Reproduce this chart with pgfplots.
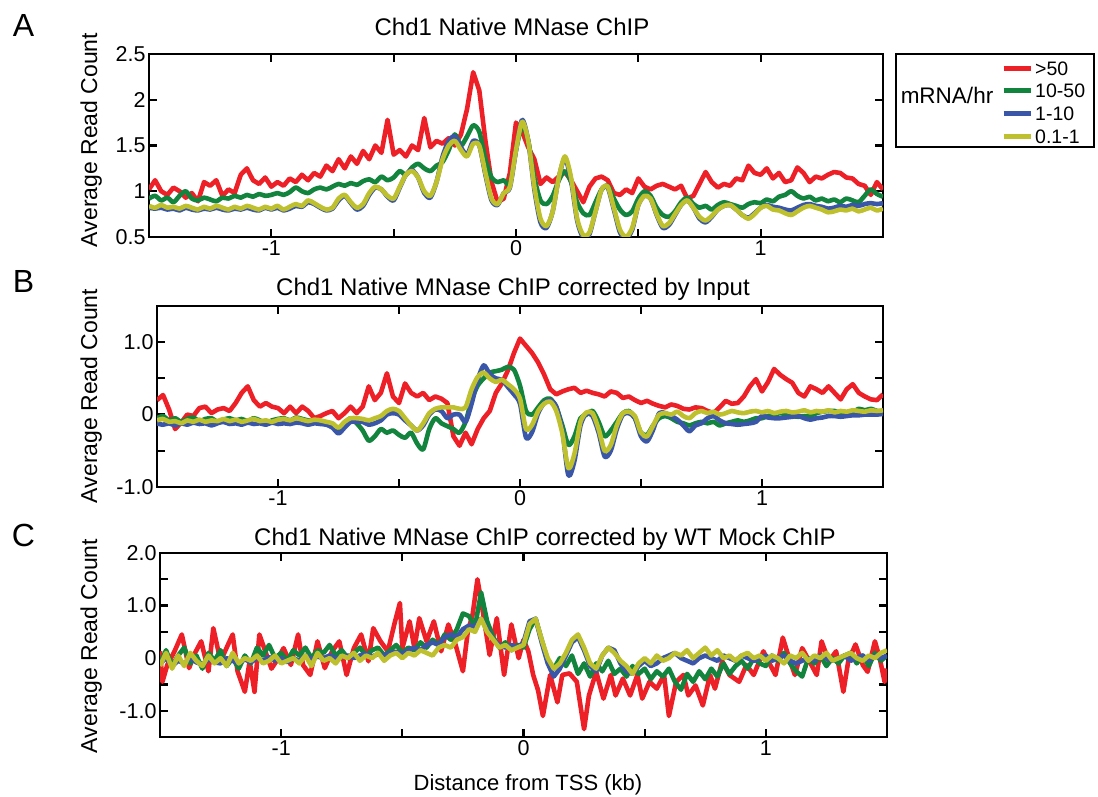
\documentclass[border=0pt]{standalone}
\usepackage{fontspec}
\setmainfont{Liberation Sans}
\usepackage{pgfplots}
\pgfplotsset{compat=1.18}
\usepackage{pgfplotstable}

\definecolor{cRed}{RGB}{236,32,38}
\definecolor{cGreen}{RGB}{18,132,62}
\definecolor{cBlue}{RGB}{58,86,168}
\definecolor{cYel}{RGB}{190,192,46}

% Panel A: native MNase ChIP (x in kb; r,g,b,y = >50, 10-50, 1-10, 0.1-1 mRNA/hr)
\pgfplotstableread{
x r g b y
-1.500 1.02 0.92 0.82 0.84
-1.475 1.12 0.95 0.81 0.82
-1.450 1.00 0.90 0.82 0.85
-1.425 0.96 0.93 0.80 0.82
-1.400 1.04 0.88 0.81 0.83
-1.375 1.00 0.95 0.79 0.81
-1.350 0.93 1.00 0.82 0.84
-1.325 0.98 0.92 0.80 0.82
-1.300 0.89 0.90 0.79 0.80
-1.275 1.10 0.93 0.81 0.83
-1.250 1.06 0.91 0.80 0.81
-1.225 1.12 0.89 0.82 0.84
-1.200 0.95 0.93 0.80 0.82
-1.175 1.02 0.92 0.79 0.80
-1.150 0.98 0.95 0.81 0.83
-1.125 1.18 0.93 0.80 0.81
-1.100 1.25 0.96 0.82 0.84
-1.075 1.12 0.94 0.80 0.82
-1.050 1.08 0.97 0.79 0.80
-1.025 1.15 0.95 0.82 0.83
-1.000 1.05 0.96 0.80 0.81
-0.975 1.10 0.98 0.82 0.84
-0.950 1.06 0.96 0.79 0.80
-0.925 1.14 0.99 0.81 0.83
-0.900 1.10 1.04 0.84 0.86
-0.875 1.18 1.00 0.83 0.84
-0.850 1.12 0.98 0.88 0.90
-0.825 1.20 1.02 0.86 0.87
-0.800 1.16 1.04 0.82 0.83
-0.775 1.28 1.02 0.79 0.80
-0.750 1.22 1.05 0.81 0.82
-0.725 1.35 1.08 0.90 0.92
-0.700 1.25 1.06 0.95 0.96
-0.675 1.38 1.09 0.87 0.88
-0.650 1.30 1.07 0.80 0.82
-0.625 1.44 1.11 0.84 0.86
-0.600 1.35 1.13 0.96 0.98
-0.575 1.50 1.10 1.04 1.05
-0.550 1.42 1.16 1.02 1.02
-0.525 1.78 1.12 0.94 0.95
-0.500 1.40 1.15 0.90 0.92
-0.475 1.45 1.22 1.04 1.05
-0.450 1.38 1.18 1.18 1.18
-0.425 1.50 1.26 1.23 1.22
-0.400 1.45 1.30 1.15 1.15
-0.375 1.80 1.25 0.98 1.00
-0.350 1.48 1.22 0.93 0.95
-0.325 1.55 1.28 1.10 1.10
-0.300 1.52 1.32 1.38 1.35
-0.275 1.58 1.45 1.55 1.50
-0.250 1.50 1.62 1.60 1.55
-0.225 1.62 1.50 1.48 1.45
-0.200 1.90 1.60 1.40 1.38
-0.175 2.30 1.72 1.55 1.52
-0.150 2.10 1.65 1.50 1.50
-0.125 1.55 1.35 1.18 1.20
-0.100 1.10 1.15 0.90 0.92
-0.075 0.88 1.10 0.85 0.86
-0.050 0.92 1.12 0.98 0.98
-0.025 1.20 1.08 1.04 1.05
0.000 1.75 1.45 1.45 1.45
0.025 1.65 1.72 1.78 1.76
0.050 1.48 1.55 1.55 1.55
0.075 1.35 1.15 1.02 1.05
0.100 1.08 0.90 0.66 0.70
0.125 1.15 0.86 0.60 0.62
0.150 1.10 0.95 0.78 0.78
0.175 1.16 1.12 1.15 1.15
0.200 1.21 1.22 1.36 1.38
0.225 1.12 1.10 1.12 1.15
0.250 1.00 0.88 0.68 0.70
0.275 0.88 0.76 0.49 0.52
0.300 1.05 0.74 0.53 0.55
0.325 1.14 0.88 0.78 0.78
0.350 1.16 1.02 1.02 1.02
0.375 1.12 1.06 1.04 1.05
0.400 0.98 0.92 0.80 0.82
0.425 0.96 0.80 0.55 0.58
0.450 1.02 0.74 0.48 0.50
0.475 0.98 0.78 0.58 0.60
0.500 1.14 0.92 0.85 0.85
0.525 1.05 1.00 0.95 0.95
0.550 1.02 0.95 0.92 0.92
0.575 1.06 0.82 0.74 0.75
0.600 1.08 0.74 0.60 0.62
0.625 1.05 0.72 0.63 0.65
0.650 1.02 0.78 0.74 0.75
0.675 1.06 0.88 0.85 0.85
0.700 0.92 0.93 0.90 0.90
0.725 0.95 0.86 0.82 0.82
0.750 1.08 0.82 0.70 0.72
0.775 1.21 0.84 0.66 0.68
0.800 1.10 0.80 0.72 0.73
0.825 1.04 0.85 0.80 0.80
0.850 1.08 0.88 0.84 0.84
0.875 1.06 0.86 0.85 0.85
0.900 1.14 0.84 0.80 0.80
0.925 1.12 0.82 0.74 0.74
0.950 1.28 0.86 0.71 0.70
0.975 1.20 0.88 0.76 0.75
1.000 1.18 0.87 0.82 0.82
1.025 1.25 0.91 0.85 0.84
1.050 1.14 0.89 0.83 0.80
1.075 1.20 0.94 0.82 0.79
1.100 1.10 0.96 0.80 0.76
1.125 1.12 1.00 0.79 0.74
1.150 1.26 0.95 0.82 0.78
1.175 1.20 0.92 0.85 0.82
1.200 1.10 0.94 0.86 0.84
1.225 1.16 0.90 0.84 0.82
1.250 1.14 0.92 0.83 0.80
1.275 1.18 0.89 0.81 0.77
1.300 1.21 0.91 0.82 0.78
1.325 1.20 0.88 0.84 0.80
1.350 1.15 0.92 0.83 0.79
1.375 1.14 0.90 0.85 0.81
1.400 1.08 0.88 0.84 0.78
1.425 1.06 0.95 0.86 0.80
1.450 0.96 1.02 0.87 0.82
1.475 1.10 0.97 0.86 0.79
1.500 1.02 0.94 0.87 0.81
}\nativeA

% Panel B: corrected by input
\pgfplotstableread{
x r g b y
-1.500 0.20 -0.05 -0.12 -0.08
-1.475 0.27 -0.02 -0.14 -0.06
-1.450 0.07 -0.08 -0.12 -0.10
-1.425 -0.20 -0.05 -0.15 -0.09
-1.400 -0.11 -0.10 -0.12 -0.12
-1.375 0.00 -0.06 -0.14 -0.08
-1.350 -0.02 -0.04 -0.11 -0.10
-1.325 0.09 -0.09 -0.13 -0.07
-1.300 0.11 -0.06 -0.12 -0.10
-1.275 0.02 -0.05 -0.15 -0.08
-1.250 0.07 -0.10 -0.12 -0.09
-1.225 0.09 -0.07 -0.10 -0.06
-1.200 0.05 -0.05 -0.13 -0.09
-1.175 0.16 -0.08 -0.12 -0.07
-1.150 0.30 -0.06 -0.14 -0.10
-1.125 0.39 -0.09 -0.11 -0.08
-1.100 0.20 -0.05 -0.13 -0.06
-1.075 0.11 -0.08 -0.12 -0.09
-1.050 0.16 -0.12 -0.14 -0.08
-1.025 0.11 -0.08 -0.11 -0.10
-1.000 0.09 -0.06 -0.13 -0.07
-0.975 0.02 -0.05 -0.12 -0.06
-0.950 0.11 -0.08 -0.13 -0.08
-0.925 0.02 -0.04 -0.11 -0.05
-0.900 0.11 -0.06 -0.12 -0.07
-0.875 0.05 -0.08 -0.14 -0.09
-0.850 -0.05 -0.08 -0.12 -0.07
-0.825 -0.02 -0.10 -0.13 -0.08
-0.800 0.02 -0.12 -0.14 -0.10
-0.775 0.05 -0.15 -0.18 -0.12
-0.750 -0.05 -0.20 -0.26 -0.18
-0.725 0.02 -0.12 -0.18 -0.10
-0.700 0.11 -0.05 -0.10 -0.05
-0.675 0.02 -0.12 -0.10 -0.05
-0.650 0.11 -0.22 -0.10 -0.06
-0.625 0.39 -0.36 -0.14 -0.08
-0.600 0.20 -0.30 -0.12 -0.05
-0.575 0.30 -0.20 -0.08 -0.02
-0.550 0.57 -0.25 0.00 0.05
-0.525 0.25 -0.22 0.02 0.08
-0.500 0.16 -0.28 0.00 0.05
-0.475 0.43 -0.32 -0.08 -0.05
-0.450 0.30 -0.25 -0.15 -0.15
-0.425 0.25 -0.40 -0.22 -0.22
-0.400 0.30 -0.48 -0.15 -0.12
-0.375 0.20 -0.20 0.00 0.02
-0.350 0.25 -0.05 0.07 0.08
-0.325 0.22 -0.12 0.05 0.10
-0.300 0.16 -0.16 -0.05 0.10
-0.275 -0.30 -0.20 0.00 0.10
-0.250 -0.43 -0.25 0.00 0.08
-0.225 -0.25 -0.10 -0.10 0.10
-0.200 -0.41 0.20 0.15 0.35
-0.175 -0.20 0.40 0.48 0.52
-0.150 -0.05 0.50 0.68 0.58
-0.125 0.05 0.58 0.56 0.50
-0.100 0.30 0.60 0.50 0.45
-0.075 0.43 0.62 0.48 0.48
-0.050 0.61 0.66 0.38 0.42
-0.025 0.85 0.62 0.28 0.35
0.000 1.05 0.40 0.15 0.22
0.025 0.95 0.05 -0.32 -0.20
0.050 0.85 0.00 -0.24 -0.14
0.075 0.72 0.10 0.02 0.05
0.100 0.55 0.20 0.16 0.15
0.125 0.35 0.22 0.20 0.18
0.150 0.28 0.10 0.11 0.05
0.175 0.32 -0.15 -0.22 -0.26
0.200 0.35 -0.42 -0.84 -0.74
0.225 0.37 -0.30 -0.64 -0.54
0.250 0.30 -0.05 -0.15 -0.10
0.275 0.33 0.00 0.02 0.03
0.300 0.30 0.05 -0.02 0.02
0.325 0.28 -0.10 -0.25 -0.20
0.350 0.25 -0.30 -0.58 -0.50
0.375 0.32 -0.22 -0.50 -0.42
0.400 0.30 -0.10 -0.20 -0.15
0.425 0.23 0.02 0.00 0.02
0.450 0.25 0.05 0.02 0.04
0.475 0.20 -0.05 -0.05 -0.02
0.500 0.16 -0.25 -0.30 -0.25
0.525 0.19 -0.28 -0.37 -0.30
0.550 0.15 -0.15 -0.21 -0.15
0.575 0.12 -0.05 0.02 0.00
0.600 0.10 -0.02 0.02 0.02
0.625 0.14 -0.05 -0.02 0.00
0.650 0.12 -0.10 -0.07 0.04
0.675 0.08 -0.12 -0.15 -0.02
0.700 0.07 -0.15 -0.23 -0.05
0.725 0.10 -0.12 -0.15 0.02
0.750 0.09 -0.10 -0.12 0.05
0.775 0.05 -0.12 -0.05 0.02
0.800 0.02 -0.10 -0.02 0.04
0.825 0.10 -0.15 -0.08 0.00
0.850 0.19 -0.12 -0.12 0.02
0.875 0.15 -0.10 -0.13 0.05
0.900 0.16 -0.08 -0.14 0.03
0.925 0.25 -0.10 -0.13 0.02
0.950 0.39 -0.08 -0.12 0.04
0.975 0.49 -0.05 -0.10 0.05
1.000 0.32 -0.05 -0.02 0.03
1.025 0.45 -0.02 -0.04 0.05
1.050 0.63 0.00 -0.05 0.02
1.075 0.55 0.02 -0.05 0.04
1.100 0.49 0.00 -0.04 0.05
1.125 0.44 -0.02 -0.03 0.03
1.150 0.30 -0.03 -0.02 0.04
1.175 0.25 -0.02 -0.05 0.06
1.200 0.39 -0.02 -0.07 0.03
1.225 0.35 0.02 -0.05 0.05
1.250 0.30 0.04 -0.04 0.04
1.275 0.39 0.05 -0.02 0.06
1.300 0.30 0.05 -0.02 0.03
1.325 0.21 0.02 -0.03 0.05
1.350 0.35 0.00 -0.02 0.04
1.375 0.42 0.03 -0.01 0.06
1.400 0.30 0.08 -0.01 0.05
1.425 0.25 0.06 0.00 0.04
1.450 0.21 0.08 0.00 0.06
1.475 0.20 0.05 0.00 0.05
1.500 0.28 0.05 0.01 0.06
}\inputB

% Panel C: corrected by WT mock ChIP (10-50, 1-10, 0.1-1)
\pgfplotstableread{
x g b y
-1.500 -0.10 -0.10 -0.15
-1.475 0.15 0.00 0.10
-1.450 -0.15 -0.15 -0.20
-1.425 0.05 -0.05 0.05
-1.400 0.20 -0.10 -0.15
-1.375 -0.10 0.00 0.10
-1.350 0.05 -0.08 -0.05
-1.325 -0.20 -0.12 -0.15
-1.300 0.10 -0.02 0.05
-1.275 -0.05 -0.08 -0.10
-1.250 0.15 -0.10 0.00
-1.225 -0.15 0.00 -0.15
-1.200 0.00 -0.05 0.10
-1.175 -0.20 -0.10 -0.10
-1.150 0.05 -0.02 0.00
-1.125 -0.10 -0.08 -0.05
-1.100 0.20 0.00 0.05
-1.075 0.05 -0.05 -0.10
-1.050 0.25 0.02 -0.05
-1.025 0.00 -0.05 0.05
-1.000 0.10 0.00 -0.10
-0.975 -0.05 -0.08 -0.05
-0.950 0.15 0.00 0.00
-0.925 0.05 -0.05 -0.10
-0.900 0.20 0.05 0.05
-0.875 0.00 -0.02 -0.15
-0.850 0.15 0.03 0.10
-0.825 0.10 0.00 -0.05
-0.800 0.25 0.05 0.00
-0.775 0.05 0.00 -0.10
-0.750 0.15 0.02 0.05
-0.725 0.00 0.05 0.00
-0.700 0.10 0.00 0.10
-0.675 0.20 0.05 -0.05
-0.650 0.05 0.08 0.05
-0.625 0.15 0.03 0.00
-0.600 0.20 0.08 0.10
-0.575 0.05 0.05 -0.05
-0.550 0.15 0.10 0.05
-0.525 0.25 0.12 0.10
-0.500 0.10 0.08 0.00
-0.475 0.20 0.15 0.10
-0.450 0.15 0.20 0.05
-0.425 0.30 0.15 0.15
-0.400 0.20 0.25 0.10
-0.375 0.35 0.30 0.05
-0.350 0.25 0.25 0.20
-0.325 0.45 0.40 0.25
-0.300 0.35 0.45 0.20
-0.275 0.55 0.40 0.35
-0.250 0.85 0.55 0.40
-0.225 0.80 0.62 0.55
-0.200 0.60 0.60 0.50
-0.175 1.25 0.75 0.75
-0.150 0.70 0.55 0.50
-0.125 0.40 0.35 0.35
-0.100 0.20 0.25 0.20
-0.075 0.30 0.20 0.25
-0.050 0.15 0.25 0.15
-0.025 0.25 0.20 0.20
0.000 0.20 0.30 0.25
0.025 0.55 0.70 0.65
0.050 0.75 0.75 0.75
0.075 0.35 0.30 0.35
0.100 -0.05 -0.10 0.00
0.125 -0.20 -0.35 -0.20
0.150 0.00 -0.20 -0.10
0.175 -0.15 0.05 0.10
0.200 0.05 0.30 0.35
0.225 -0.30 0.40 0.45
0.250 -0.10 0.15 0.20
0.275 -0.35 -0.15 -0.10
0.300 -0.10 -0.25 -0.20
0.325 -0.25 0.05 0.05
0.350 -0.05 0.20 0.20
0.375 -0.30 0.15 0.10
0.400 -0.20 -0.10 -0.05
0.425 -0.35 -0.25 -0.15
0.450 -0.15 -0.30 -0.30
0.475 -0.30 -0.15 -0.10
0.500 -0.20 -0.05 0.00
0.525 -0.40 -0.15 -0.10
0.550 -0.25 -0.10 0.05
0.575 -0.35 0.00 -0.05
0.600 -0.20 0.05 0.00
0.625 -0.45 0.10 0.10
0.650 -0.60 0.00 0.05
0.675 -0.30 -0.05 0.15
0.700 -0.45 -0.10 0.00
0.725 -0.25 0.00 0.10
0.750 -0.40 0.05 0.20
0.775 -0.20 0.00 0.05
0.800 -0.35 -0.05 0.15
0.825 -0.10 0.05 0.00
0.850 -0.30 0.00 0.05
0.875 -0.15 -0.05 -0.05
0.900 -0.05 0.05 0.05
0.925 -0.20 0.00 0.10
0.950 0.00 -0.05 0.00
0.975 -0.10 0.00 0.05
1.000 -0.15 0.05 -0.05
1.025 0.05 -0.05 0.05
1.050 -0.05 0.00 0.00
1.075 0.10 0.05 -0.10
1.100 -0.10 -0.05 0.05
1.125 -0.25 -0.10 0.00
1.150 -0.35 -0.05 0.10
1.175 0.00 0.00 -0.05
1.200 -0.10 -0.05 0.05
1.225 0.05 0.05 0.00
1.250 -0.15 0.00 0.10
1.275 0.00 -0.05 -0.05
1.300 -0.10 0.00 0.00
1.325 0.05 0.05 0.05
1.350 0.10 -0.05 0.10
1.375 -0.10 0.00 0.00
1.400 0.05 0.05 -0.05
1.425 -0.15 -0.05 0.05
1.450 0.10 0.05 0.00
1.475 -0.05 0.00 0.10
1.500 0.05 0.05 0.15
}\mockC

% Panel C, >50 mRNA/hr (noisier, own sampling)
\pgfplotstableread{
x r
-1.50 0.13
-1.49 -0.45
-1.47 -0.13
-1.44 0.13
-1.41 0.45
-1.38 -0.19
-1.36 0.06
-1.33 0.32
-1.30 -0.25
-1.28 0.57
-1.25 -0.06
-1.22 0.25
-1.20 0.45
-1.18 -0.25
-1.15 -0.64
-1.13 -0.06
-1.11 -0.64
-1.09 0.45
-1.07 0.19
-1.04 -0.20
-1.02 -0.06
-0.99 0.19
-0.96 -0.13
-0.93 0.45
-0.91 -0.13
-0.88 -0.32
-0.85 0.32
-0.82 -0.19
-0.79 0.13
-0.76 0.32
-0.73 -0.32
-0.70 0.19
-0.67 0.45
-0.64 -0.06
-0.62 0.57
-0.59 0.32
-0.56 0.13
-0.53 0.70
-0.51 1.05
-0.50 0.19
-0.47 0.70
-0.45 0.19
-0.43 0.76
-0.40 0.32
-0.37 0.70
-0.34 0.13
-0.31 0.64
-0.28 0.25
-0.25 -0.25
-0.23 0.50
-0.21 0.83
-0.19 1.50
-0.17 0.95
-0.14 0.06
-0.11 0.76
-0.08 -0.32
-0.05 0.64
-0.02 0.00
0.00 0.35
0.02 0.13
0.04 -0.32
0.06 -0.61
0.08 -1.10
0.11 -0.32
0.14 -0.84
0.16 -0.32
0.19 -0.29
0.22 -0.45
0.25 -1.35
0.27 -0.71
0.30 -0.26
0.33 -0.77
0.36 -0.32
0.38 -0.71
0.41 -0.39
0.44 -0.71
0.47 -0.32
0.49 -0.77
0.52 -0.45
0.55 -0.58
0.58 -0.32
0.60 -1.10
0.63 -0.45
0.66 -0.32
0.68 -0.71
0.71 -0.52
0.74 -0.90
0.77 -0.32
0.79 -0.58
0.82 -0.06
0.85 -0.32
0.89 -0.45
0.92 -0.13
0.95 -0.32
0.99 0.13
1.01 -0.06
1.04 -0.32
1.07 0.39
1.10 -0.06
1.12 -0.32
1.15 0.19
1.18 -0.06
1.21 -0.32
1.23 0.32
1.26 -0.06
1.29 0.13
1.32 -0.64
1.34 -0.06
1.37 0.26
1.40 -0.13
1.42 -0.26
1.45 0.32
1.47 0.00
1.49 -0.45
1.50 -0.20
}\mockCred

\pgfplotsset{
  chd/.style={
    scale only axis,
    anchor=south west,
    xmin=-1.5, xmax=1.5,
    axis line style={line width=2.6pt},
    tick align=inside,
    xtick pos=both, ytick pos=both,
    xticklabel pos=left, yticklabel pos=left,
    major tick length=8pt,
    every tick/.style={black, line width=2.2pt},
    xtick={-1,-0.5,0,0.5,1},
    xticklabels={-1,,0,,1},
    tick label style={font=\fontsize{21.5}{24}\selectfont},
    every axis plot/.append style={line width=4.6pt, line join=round, mark=none},
  },
  sm/.style={smooth, tension=0.45},
}

\begin{document}
\begin{tikzpicture}[x=1pt,y=1pt]
\useasboundingbox (0,0) rectangle (1098,797);

% ---------- A ----------
\begin{axis}[chd,
  at={(149pt,560pt)}, width=734pt, height=183pt,
  ymin=0.5, ymax=2.5,
  ytick={0.5,1,1.5,2,2.5}, yticklabels={0.5,1,1.5,2,2.5},
  legend style={at={(1.1608,0.9727)}, anchor=north west, draw=none, fill=none,
    inner sep=0pt, font=\fontsize{19.5}{22}\selectfont, row sep=4.8pt,
    nodes={inner sep=2pt, text height=14pt, text depth=0pt},
    cells={anchor=west}},
  legend image code/.code={\draw[line width=5pt] (0pt,0pt) -- (27pt,0pt);},
  /tikz/every even column/.append style={column sep=6pt},
]
\addplot[cRed] table[x=x,y=r]{\nativeA};
\addlegendentry{>50}
\addplot[cGreen,sm] table[x=x,y=g]{\nativeA};
\addlegendentry{10-50}
\addplot[cBlue,sm] table[x=x,y=b]{\nativeA};
\addlegendentry{1-10}
\addplot[cYel,sm] table[x=x,y=y]{\nativeA};
\addlegendentry{0.1-1}
\end{axis}

% ---------- B ----------
\begin{axis}[chd,
  at={(157pt,310pt)}, width=726pt, height=181pt,
  ymin=-1, ymax=1.5,
  ytick={-1,-0.5,0,0.5,1,1.5}, yticklabels={-1.0,,0,,1.0,},
]
\addplot[cRed] table[x=x,y=r]{\inputB};
\addplot[cGreen,sm] table[x=x,y=g]{\inputB};
\addplot[cBlue,sm] table[x=x,y=b]{\inputB};
\addplot[cYel,sm] table[x=x,y=y]{\inputB};
\end{axis}

% ---------- C ----------
\begin{axis}[chd,
  at={(160pt,60pt)}, width=727pt, height=184pt,
  ymin=-1.5, ymax=2,
  ytick={-1.5,-1,-0.5,0,0.5,1,1.5,2}, yticklabels={,-1.0,,0,,1.0,,2.0},
]
\addplot[cRed] table[x=x,y=r]{\mockCred};
\addplot[cGreen] table[x=x,y=g]{\mockC};
\addplot[cBlue] table[x=x,y=b]{\mockC};
\addplot[cYel] table[x=x,y=y]{\mockC};
\end{axis}

% legend frame and its heading
\draw[line width=2.6pt] (896,650) rectangle (1094,743);
\node[font=\fontsize{22.5}{24}\selectfont, anchor=base] at (947,693) {mRNA/hr};

% panel titles
\node[font=\fontsize{24}{26}\selectfont, anchor=base] at (512,761) {Chd1 Native MNase ChIP};
\node[font=\fontsize{24}{26}\selectfont, anchor=base] at (513,501) {Chd1 Native MNase ChIP corrected by Input};
\node[font=\fontsize{24}{26}\selectfont, anchor=base] at (545,251) {Chd1 Native MNase ChIP corrected by WT Mock ChIP};

% panel letters
\node[font=\fontsize{32}{34}\selectfont, anchor=base] at (23.5,760) {A};
\node[font=\fontsize{32}{34}\selectfont, anchor=base] at (23.5,504) {B};
\node[font=\fontsize{32}{34}\selectfont, anchor=base] at (23.5,250) {C};

% y-axis labels
\node[font=\fontsize{23}{24}\selectfont, rotate=90, anchor=base] at (97,657) {Average Read Count};
\node[font=\fontsize{23}{24}\selectfont, rotate=90, anchor=base] at (97,401) {Average Read Count};
\node[font=\fontsize{23}{24}\selectfont, rotate=90, anchor=base] at (97,151) {Average Read Count};

% x-axis label
\node[font=\fontsize{22}{24}\selectfont, anchor=base] at (528,6) {Distance from TSS (kb)};
\end{tikzpicture}
\end{document}
